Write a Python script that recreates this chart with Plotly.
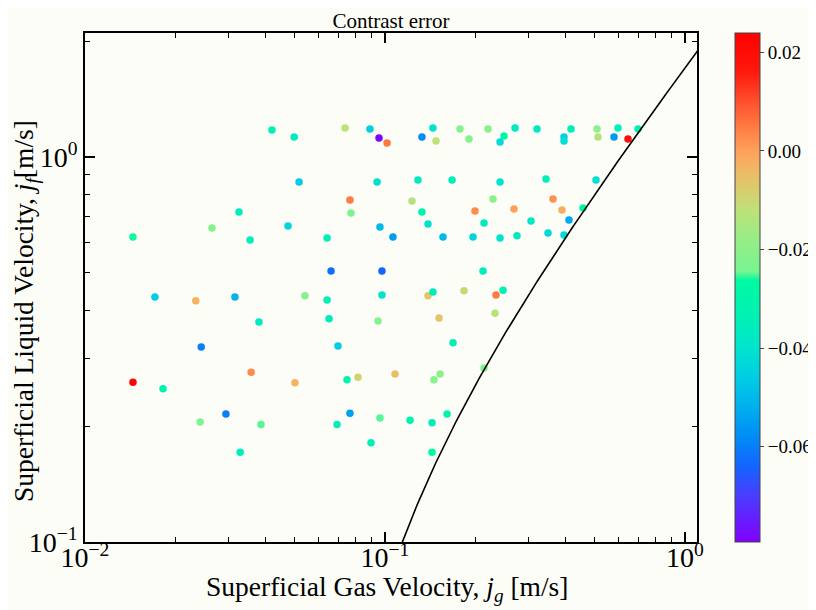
import numpy as np
import plotly.graph_objects as go

# ---- data ----
jg = [0.0420, 0.0498, 0.0736, 0.0891, 0.0955, 0.1016, 0.1328, 0.1445, 0.1479, 0.1778,
      0.1905, 0.2205, 0.2493, 0.2418, 0.2713, 0.3211, 0.4169, 0.3951, 0.3951, 0.5089,
      0.5129, 0.5980, 0.5799, 0.6457, 0.6973,
      0.0517, 0.0941, 0.1288, 0.1673, 0.2418, 0.3441, 0.5050,
      0.0764, 0.0770, 0.1230, 0.1328, 0.1995, 0.2291, 0.2692, 0.3631, 0.3890, 0.4571, 0.4105,
      0.0326, 0.0265, 0.01445, 0.0355, 0.0475, 0.0641, 0.0962, 0.1063, 0.1391, 0.1561,
      0.1965, 0.2138, 0.2418, 0.2754, 0.3067, 0.3494, 0.3951,
      0.0661, 0.0977, 0.2122,
      0.0171, 0.0234, 0.0316, 0.0541, 0.0641, 0.0977, 0.1391, 0.1445, 0.1834, 0.2344, 0.2474,
      0.0380, 0.0651, 0.0948, 0.2327, 0.1514,
      0.0244, 0.0697, 0.1686,
      0.0358, 0.0501, 0.01445, 0.0182, 0.0747, 0.0813, 0.1080, 0.1526, 0.1456, 0.2138,
      0.0295, 0.0764, 0.0242, 0.0386, 0.0692, 0.0962, 0.1212, 0.1435, 0.1610,
      0.0329, 0.0898, 0.1435]
jf = [1.175, 1.127, 1.189, 1.182, 1.120, 1.087, 1.127, 1.189, 1.100, 1.182,
      1.114, 1.182, 1.134, 1.094, 1.189, 1.182, 1.182, 1.127, 1.100, 1.182,
      1.127, 1.189, 1.127, 1.114, 1.182,
      0.861, 0.861, 0.872, 0.872, 0.861, 0.877, 0.872,
      0.773, 0.715, 0.769, 0.720, 0.724, 0.778, 0.733, 0.778, 0.728, 0.737, 0.686,
      0.720, 0.654, 0.620, 0.609, 0.662, 0.616, 0.658, 0.620, 0.670, 0.620,
      0.620, 0.674, 0.616, 0.624, 0.682, 0.635, 0.627,
      0.506, 0.506, 0.506,
      0.433, 0.423, 0.433, 0.436, 0.425, 0.438, 0.436, 0.446, 0.449, 0.438, 0.451,
      0.373, 0.380, 0.375, 0.393, 0.382,
      0.321, 0.323, 0.329,
      0.276, 0.259, 0.260, 0.250, 0.264, 0.268, 0.273, 0.273, 0.264, 0.283,
      0.215, 0.216, 0.205, 0.202, 0.202, 0.210, 0.207, 0.204, 0.215,
      0.171, 0.181, 0.171]
err = [-0.034, -0.036, -0.012, -0.045, -0.078, 0.005, -0.058, -0.040, -0.012, -0.022,
       -0.022, -0.021, -0.028, -0.042, -0.036, -0.037, -0.035, -0.045, -0.041, -0.020,
       -0.013, -0.034, -0.056, 0.020, -0.033,
       -0.046, -0.041, -0.037, -0.035, -0.039, -0.035, -0.041,
       0.005, -0.024, -0.013, -0.030, 0.003, -0.020, 0.000, 0.002, -0.002, -0.031, -0.053,
       -0.035, -0.022, -0.026, -0.034, -0.044, -0.035, -0.050, -0.055, -0.040, -0.050,
       -0.044, -0.036, -0.040, -0.036, -0.038, -0.043, -0.043,
       -0.062, -0.064, -0.035,
       -0.046, -0.003, -0.051, -0.022, -0.034, -0.040, -0.006, -0.036, -0.010, 0.005, -0.033,
       -0.036, -0.036, -0.022, -0.013, -0.006,
       -0.060, -0.046, -0.034,
       0.003, -0.003, 0.023, -0.033, -0.030, -0.009, -0.005, -0.020, -0.022, -0.022,
       -0.060, -0.055, -0.023, -0.025, -0.033, -0.025, -0.030, -0.035, -0.030,
       -0.035, -0.034, -0.028]

# transition boundary jf = a * (jg - b)
boundary_a = 1.81
boundary_b = 0.059
boundary_jg = np.logspace(np.log10(0.1135), np.log10(1.12), 200)
boundary_jf = boundary_a * (boundary_jg - boundary_b)

err_min, err_max = -0.0793, 0.0239

x_tickvals = [0.01, 0.1, 1.0]
x_ticktext = ["10<sup>\u22122</sup>", "10<sup>\u22121</sup>", "10<sup>0</sup>"]
y_tickvals = [0.1, 1.0]
y_ticktext = ["10<sup>\u22121</sup>", "10<sup>0</sup>"]
x_minor = [m * d for d in (0.01, 0.1) for m in range(2, 10)]
y_minor = [m * d for d in (0.1, 1.0) for m in range(2, 10)]
cb_tickvals = [0.02, 0.00, -0.02, -0.04, -0.06]

title_text = "Contrast error"
x_title = "Superficial Gas Velocity, <i>j<sub>g</sub></i> [m/s]"
y_title = "Superficial Liquid Velocity, <i>j<sub>f</sub></i>[m/s]"

# colour stops (value, rgb) as seen on the reference colour bar
cmap_vals = [-0.0793, -0.070, -0.064, -0.058, -0.052, -0.046, -0.040, -0.034, -0.0262,
             -0.0245, -0.018, -0.012, -0.008, -0.004, 0.000, 0.004, 0.010, 0.016, 0.0239]
cmap_rgbs = [(128, 0, 255), (75, 60, 255), (20, 100, 255), (0, 140, 245), (0, 175, 238),
             (0, 205, 228), (0, 228, 205), (0, 240, 182), (0, 250, 162),
             (120, 244, 145), (150, 238, 135), (190, 225, 120), (215, 205, 110),
             (240, 185, 100), (255, 160, 90), (255, 130, 70), (255, 80, 45),
             (255, 25, 12), (255, 0, 0)]
cscale = [[(v - err_min) / (err_max - err_min), "rgb(%d,%d,%d)" % c]
          for v, c in zip(cmap_vals, cmap_rgbs)]

FONT = "Liberation Serif"
BG = "#fdfdf8"
# the page body has an 8px margin, so the figure is drawn 8px smaller
W, H = 808, 602
L, R, T, B = 77, 119, 25, 68
PW, PH = W - L - R, H - T - B

fig = go.Figure()
fig.add_trace(go.Scatter(
    x=jg, y=jf, mode="markers",
    marker=dict(size=7.5, color=err, colorscale=cscale, cmin=err_min, cmax=err_max,
                line=dict(width=0),
                colorbar=dict(
                    x=1.062, xanchor="left", xpad=0, y=0, yanchor="bottom", ypad=0,
                    len=1.0, lenmode="fraction",
                    thickness=25, outlinewidth=1, outlinecolor="#444",
                    tickvals=cb_tickvals, tickformat=".2f", ticks="outside", ticklen=4,
                    tickfont=dict(family=FONT, size=19, color="black"),
                )),
    showlegend=False, hoverinfo="skip",
))
fig.add_trace(go.Scatter(
    x=boundary_jg, y=boundary_jf, mode="lines",
    line=dict(color="black", width=1.6), showlegend=False, hoverinfo="skip",
))

axis_common = dict(
    type="log", showgrid=False, zeroline=False, showline=True, linecolor="black",
    linewidth=1.5, mirror="allticks", ticks="inside", ticklen=10, tickwidth=1.6,
    tickcolor="black", tickfont=dict(family=FONT, size=28, color="black"),
    automargin=False,
)

fig.update_layout(
    width=W, height=H,
    margin=dict(l=L, r=R, t=T, b=B, autoexpand=False),
    paper_bgcolor=BG, plot_bgcolor=BG,
    title=dict(text=title_text, x=(L + PW / 2) / W, xanchor="center",
               y=1 - 13 / H, yanchor="middle",
               font=dict(family=FONT, size=21, color="black")),
    xaxis=dict(axis_common, range=[-2, 0.04], tickvals=x_tickvals, ticktext=x_ticktext,
               ticklabelstandoff=-10,
               minor=dict(tickvals=x_minor, ticks="inside", ticklen=5, tickwidth=1,
                          tickcolor="black", showgrid=False)),
    yaxis=dict(axis_common, range=[-1, 0.322], tickvals=y_tickvals, ticktext=y_ticktext,
               minor=dict(tickvals=y_minor, ticks="inside", ticklen=5, tickwidth=1,
                          tickcolor="black", showgrid=False)),
    annotations=[
        dict(text=x_title, xref="paper", yref="paper", x=(379 - L) / PW,
             y=-(580 - (H - B)) / PH, xanchor="center", yanchor="middle",
             showarrow=False, font=dict(family=FONT, size=27.5, color="black")),
        dict(text=y_title, xref="paper", yref="paper", x=-(L - 17) / PW,
             y=(H - B - 303) / PH, xanchor="center", yanchor="middle",
             textangle=-90, showarrow=False, font=dict(family=FONT, size=27.5, color="black")),
    ],
)

fig.write_html("out.html")
